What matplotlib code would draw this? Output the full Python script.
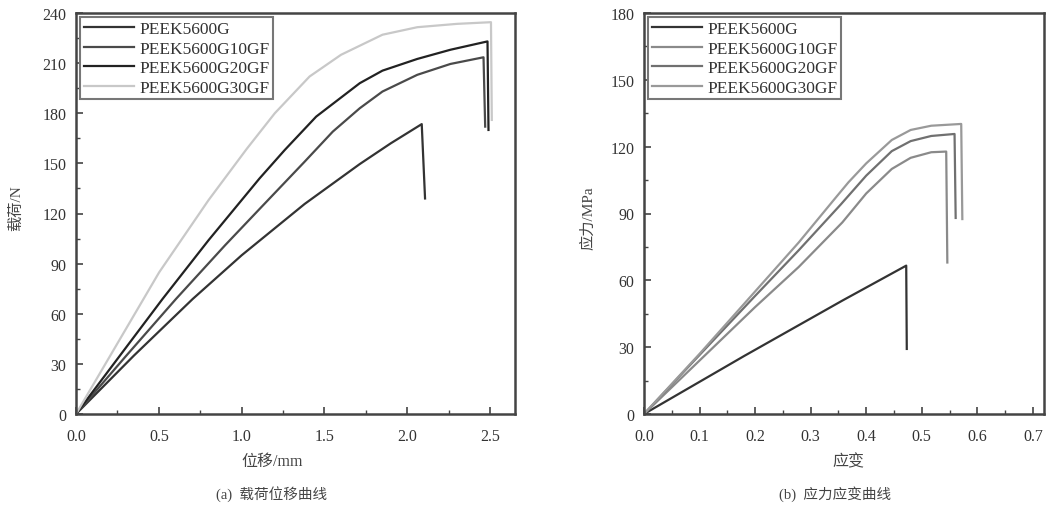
import matplotlib
matplotlib.use('Agg')
import matplotlib.pyplot as plt
from matplotlib.ticker import MultipleLocator

plt.rcParams['font.family'] = ['Liberation Serif', 'Noto Sans CJK SC']

labels = ['PEEK5600G', 'PEEK5600G10GF', 'PEEK5600G20GF', 'PEEK5600G30GF']

# (a) load vs displacement
disp_g = [0, 0.35, 0.704, 1.0, 1.38, 1.713, 1.9, 2.087, 2.107]
load_g = [0, 35, 68.8, 95, 125.7, 149.6, 162, 173.5, 129]
disp_10 = [0, 0.3, 0.603, 0.9, 1.108, 1.38, 1.55, 1.713, 1.85, 2.06, 2.26, 2.46, 2.47]
load_10 = [0, 34.5, 68.8, 101, 122.7, 151, 169, 183, 193, 203, 209.5, 213.5, 172]
disp_20 = [0, 0.522, 0.8, 1.108, 1.26, 1.45, 1.713, 1.85, 2.06, 2.26, 2.484, 2.49]
load_20 = [0, 68.8, 104, 141, 158, 178, 198, 205.5, 212.5, 218, 223, 170]
disp_30 = [0, 0.502, 0.8, 1.03, 1.2, 1.41, 1.6, 1.85, 2.06, 2.3, 2.505, 2.51]
load_30 = [0, 84.8, 128, 158.6, 180, 202, 215, 227, 231.5, 233.5, 234.5, 176]

# (b) stress vs strain
strain_g = [0, 0.18, 0.357, 0.472, 0.473]
stress_g = [0, 26, 50.9, 66.6, 29.2]
strain_10 = [0, 0.1, 0.2, 0.2785, 0.357, 0.4, 0.446, 0.48, 0.517, 0.544, 0.546]
stress_10 = [0, 24, 48, 66, 86, 99, 110, 115, 117.5, 117.8, 68]
strain_20 = [0, 0.1, 0.2, 0.2785, 0.354, 0.4, 0.446, 0.48, 0.517, 0.559, 0.561]
stress_20 = [0, 26.5, 53, 73.5, 94, 107, 118, 122.5, 124.8, 125.7, 88]
strain_30 = [0, 0.1, 0.2, 0.2785, 0.343, 0.368, 0.4, 0.446, 0.48, 0.517, 0.571, 0.573]
stress_30 = [0, 27, 55, 77, 96.5, 104, 112.5, 123, 127.5, 129.4, 130.2, 87.5]

colors_a = ['#333333', '#4a4a4a', '#222222', '#c8c8c8']
colors_b = ['#333333', '#8a8a8a', '#707070', '#999999']

fig = plt.figure(figsize=(10.5, 5.1), dpi=100)
ax1 = fig.add_axes([76/1050, 95/510, 439/1050, 401/510])
ax2 = fig.add_axes([644/1050, 95/510, 400/1050, 401/510])

for x, y, c, lab in zip([disp_g, disp_10, disp_20, disp_30],
                        [load_g, load_10, load_20, load_30], colors_a, labels):
    ax1.plot(x, y, color=c, lw=1.6, label=lab)
for x, y, c, lab in zip([strain_g, strain_10, strain_20, strain_30],
                        [stress_g, stress_10, stress_20, stress_30], colors_b, labels):
    ax2.plot(x, y, color=c, lw=1.6, label=lab)

ax1.set_xlim(0, 2.65)
ax1.set_ylim(0, 240)
ax1.xaxis.set_major_locator(MultipleLocator(0.5))
ax1.xaxis.set_minor_locator(MultipleLocator(0.25))
ax1.yaxis.set_major_locator(MultipleLocator(30))
ax1.yaxis.set_minor_locator(MultipleLocator(15))
ax1.xaxis.set_major_formatter(lambda v, p: f'{v:.1f}')

ax2.set_xlim(0, 0.72)
ax2.set_ylim(0, 180)
ax2.xaxis.set_major_locator(MultipleLocator(0.1))
ax2.xaxis.set_minor_locator(MultipleLocator(0.05))
ax2.yaxis.set_major_locator(MultipleLocator(30))
ax2.yaxis.set_minor_locator(MultipleLocator(15))
ax2.xaxis.set_major_formatter(lambda v, p: f'{v:.1f}')

for ax in (ax1, ax2):
    for s in ax.spines.values():
        s.set_linewidth(1.8)
        s.set_color('#444444')
    ax.tick_params(which='both', direction='in', top=False, right=False,
                   colors='#444444', labelcolor='#333333', labelsize=11.5)
    ax.tick_params(which='major', length=5, width=1.2)
    ax.tick_params(which='minor', length=3, width=1.0)
    ax.tick_params(axis='x', which='major', pad=10)
    ax.tick_params(axis='y', which='major', pad=7)
    leg = ax.legend(loc='upper left', bbox_to_anchor=(0.0, 1.0), fancybox=False,
                    framealpha=1, edgecolor='#777777', fontsize=12.5,
                    handlelength=2.9, handletextpad=0.3, labelspacing=0.2,
                    borderaxespad=0.25, borderpad=0.2)
    leg.get_frame().set_linewidth(1.5)
    for t in leg.get_texts():
        t.set_color('#333333')

fig.text(16/1050, 1 - 208/510, '载荷/N', rotation=90, ha='center', va='center',
         fontsize=11, color='#444444')
fig.text(272/1050, 1 - 462/510, '位移/mm', ha='center', va='center',
         fontsize=11.5, color='#444444')
fig.text(272/1050, 1 - 494/510, '(a)  载荷位移曲线', ha='center', va='center',
         fontsize=10.5, color='#444444')

fig.text(588/1050, 1 - 218/510, '应力/MPa', rotation=90, ha='center', va='center',
         fontsize=11, color='#444444')
fig.text(848/1050, 1 - 462/510, '应变', ha='center', va='center',
         fontsize=11.5, color='#444444')
fig.text(835/1050, 1 - 494/510, '(b)  应力应变曲线', ha='center', va='center',
         fontsize=10.5, color='#444444')

fig.savefig('out.png', dpi=100)
